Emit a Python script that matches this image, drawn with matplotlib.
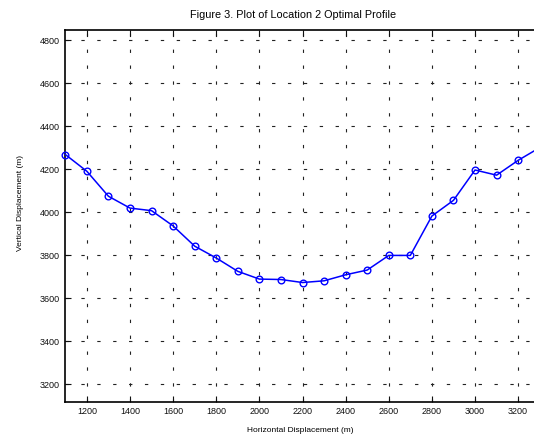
import matplotlib.pyplot as plt

plt.rcParams['font.family'] = ['Liberation Sans', 'DejaVu Sans']

# profile points, every 100 m along the section
horiz = [1100, 1200, 1300, 1400, 1500, 1600, 1700, 1800, 1900, 2000, 2100, 2200,
         2300, 2400, 2500, 2600, 2700, 2800, 2900, 3000, 3100, 3200, 3300]
vert = [4268, 4190, 4074, 4019, 4007, 3936, 3842, 3787, 3725, 3689, 3687, 3673,
        3681, 3709, 3731, 3799, 3799, 3982, 4055, 4196, 4172, 4241, 4300]

xticks = list(range(1200, 3300, 200))
yticks = list(range(3200, 4900, 200))

fig = plt.figure(figsize=(5.34, 4.37), dpi=100)
ax = fig.add_axes([0.1223, 0.0812, 0.8884, 0.8508])

ax.plot(horiz, vert, color='#0000ff', lw=1.1, marker='o', ms=4.8,
        mfc='none', mec='#0000ff', mew=1.0, clip_on=False, zorder=3)

ax.set_xlim(1100, 3300)
ax.set_ylim(3120, 4848)
ax.set_xticks(xticks)
ax.set_yticks(yticks)
ax.tick_params(direction='in', length=4, width=0.8, labelsize=6.5,
               top=True, right=True, pad=4, colors='#111111')

# dotted grid the old way: short dashes with long gaps
ax.grid(True, color='#222222', lw=0.8, dashes=(3.0, 11.3))

for s in ['left', 'bottom', 'top']:
    ax.spines[s].set_linewidth(1.2)

fig.text(293 / 534, 1 - 15 / 437, 'Figure 3. Plot of Location 2 Optimal Profile',
         ha='center', va='center', fontsize=7.8)
fig.text(300 / 534, 1 - 430 / 437, 'Horizontal Displacement (m)',
         ha='center', va='center', fontsize=6)
fig.text(21 / 534, 1 - 203 / 437, 'Vertical Displacement (m)',
         ha='center', va='center', fontsize=6, rotation=90)

fig.savefig('out.png', dpi=100)
